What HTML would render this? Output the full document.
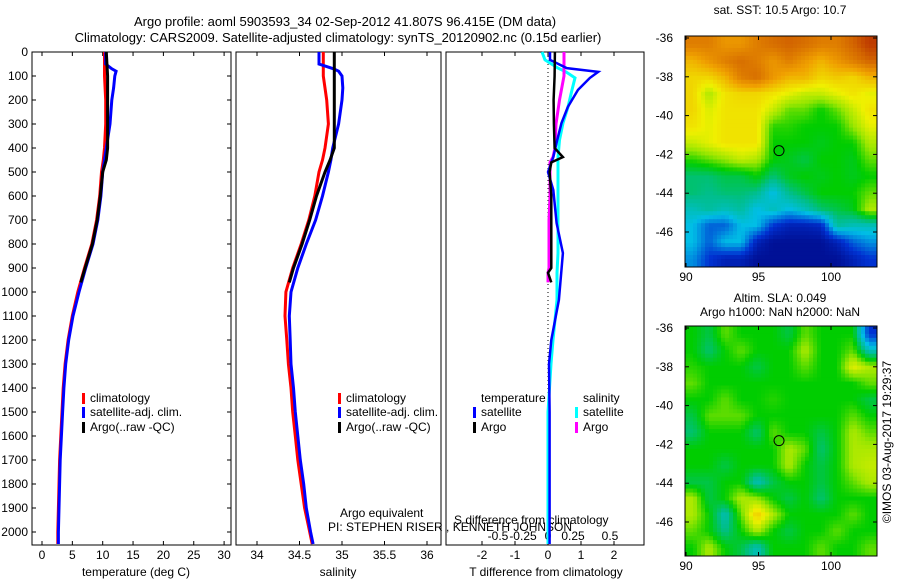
<!DOCTYPE html>
<html><head><meta charset="utf-8"><style>
body{margin:0;background:#fff}
svg{display:block;font-family:"Liberation Sans",sans-serif;font-size:12px}
</style></head><body>
<svg id="s" width="900" height="580" xmlns="http://www.w3.org/2000/svg">
<text x="345" y="26" text-anchor="middle" font-size="13">Argo profile: aoml 5903593_34 02-Sep-2012 41.807S 96.415E (DM data)</text>
<text x="338" y="42" text-anchor="middle" font-size="13">Climatology: CARS2009. Satellite-adjusted climatology: synTS_20120902.nc (0.15d earlier)</text>
<text x="780" y="14" text-anchor="middle">sat. SST: 10.5 Argo: 10.7</text>
<text x="780" y="302" text-anchor="middle">Altim. SLA: 0.049</text>
<text x="780" y="316" text-anchor="middle">Argo h1000: NaN h2000: NaN</text>
<text transform="translate(891,442) rotate(-90)" text-anchor="middle">©IMOS 03-Aug-2017 19:29:37</text>
<text x="340" y="517">Argo equivalent</text>
<text x="328" y="531">PI: STEPHEN RISER , KENNETH JOHNSON</text>
<text x="454" y="524">S difference from climatology</text>
<text x="136" y="576" text-anchor="middle">temperature (deg C)</text>
<text x="338" y="576" text-anchor="middle">salinity</text>
<text x="546" y="576" text-anchor="middle">T difference from climatology</text>
</svg>
<script>
// ---- data ----
const depths=[0,50,70,80,100,150,200,300,400,450,500,600,700,800,900,1000,1100,1200,1300,1400,1500,1600,1700,1800,1900,2000,2050];
const tempClim=[10.3,10.3,10.3,10.3,10.3,10.4,10.5,10.5,10.3,10.1,9.8,9.5,9.0,8.2,7.0,5.9,5.0,4.3,3.8,3.5,3.3,3.1,2.9,2.8,2.7,2.6,2.6];
const tempSat=[10.5,10.5,11.5,12.2,12.0,11.8,11.5,11.2,10.6,10.3,10.0,9.7,9.2,8.4,7.2,6.1,5.1,4.4,3.9,3.6,3.4,3.2,3.0,2.9,2.8,2.7,2.7];
const argoDepths=[0,100,200,300,400,450,500,600,700,800,900,960];
const tempArgo=[10.6,10.8,10.8,10.8,10.8,10.6,10.0,9.6,9.1,8.3,7.1,6.4];
const salClim=[34.78,34.78,34.78,34.78,34.78,34.80,34.82,34.84,34.80,34.77,34.73,34.68,34.61,34.52,34.42,34.34,34.33,34.35,34.37,34.40,34.42,34.45,34.48,34.52,34.56,34.62,34.65];
const salSat=[34.73,34.73,34.90,34.96,35.00,35.01,35.00,34.96,34.89,34.87,34.84,34.77,34.69,34.58,34.48,34.40,34.38,34.39,34.40,34.43,34.45,34.48,34.51,34.55,34.58,34.63,34.66];
const salArgo=[34.91,34.91,34.91,34.91,34.91,34.86,34.80,34.70,34.62,34.53,34.43,34.38];
const diffDepths=[0,33,67,83,108,158,229,296,367,438,500,575,713,838,921,1033,1200,1300,1500,1800,2050];
const tDiffSat=[0.06,0.06,0.57,1.52,1.27,0.91,0.6,0.41,0.28,0.16,0,0.16,0.26,0.45,0.4,0.33,0.1,0.03,0.05,0.05,0.05];
const sDiffSat=[-0.06,-0.03,0.1,0.18,0.27,0.24,0.2,0.15,0.115,0.1,0.1,0.1,0.1,0.1,0.09,0.09,0.05,0.03,0,0,0];
const argoDiffDepths=[0,100,200,300,400,438,460,500,600,700,800,900,920,960];
const tDiffArgo=[0.21,0.2,0.17,0.18,0.2,0.45,0.1,0.05,0.1,0.1,0.1,0.1,0.0,0.1];
const sDiffArgo=[0.16,0.16,0.115,0.08,0.07,0.05,0.02,0.02,0.02,0.01,0.01,0.01,0.0,0.0];
const depthTicks=[0,100,200,300,400,500,600,700,800,900,1000,1100,1200,1300,1400,1500,1600,1700,1800,1900,2000];
const tempTicks=[0,5,10,15,20,25,30];
const salTicks=[34,34.5,35,35.5,36];
const tdTicks=[-2,-1,0,1,2];
const sdTicks=[-0.5,-0.25,0,0.25,0.5];
const lonTicks=[90,95,100];
const latTicks=[-36,-38,-40,-42,-44,-46];
const sstGrid=[
[0.85,0.85,0.8,0.8,0.85,0.88,0.9,0.88,0.85,0.85,0.9,0.95],
[0.75,0.8,0.85,0.88,0.85,0.8,0.85,0.8,0.75,0.8,0.85,0.9],
[0.7,0.7,0.75,0.85,0.88,0.8,0.75,0.75,0.7,0.72,0.7,0.75],
[0.7,0.6,0.68,0.7,0.7,0.68,0.65,0.62,0.62,0.65,0.68,0.65],
[0.7,0.64,0.68,0.68,0.68,0.62,0.55,0.55,0.5,0.55,0.62,0.68],
[0.68,0.65,0.68,0.68,0.68,0.52,0.52,0.5,0.5,0.5,0.58,0.65],
[0.62,0.65,0.68,0.68,0.68,0.5,0.5,0.5,0.48,0.5,0.5,0.6],
[0.52,0.55,0.58,0.62,0.6,0.5,0.48,0.45,0.5,0.5,0.48,0.55],
[0.42,0.42,0.45,0.45,0.5,0.42,0.48,0.5,0.48,0.5,0.48,0.5],
[0.42,0.4,0.42,0.42,0.4,0.3,0.4,0.45,0.5,0.5,0.5,0.55],
[0.35,0.38,0.35,0.38,0.3,0.35,0.3,0.35,0.42,0.45,0.48,0.6],
[0.3,0.2,0.2,0.3,0.3,0.15,0.1,0.1,0.12,0.38,0.35,0.35],
[0.3,0.2,0.3,0.3,0.1,0.05,0.05,0.05,0.05,0.1,0.2,0.25],
[0.25,0.15,0.1,0.1,0.05,0.05,0.05,0.05,0.05,0.05,0.1,0.15]];
const slaGrid=[
[0.5,0.45,0.55,0.5,0.5,0.5,0.45,0.55,0.5,0.5,0.5,0.15],
[0.5,0.42,0.5,0.55,0.5,0.5,0.5,0.6,0.5,0.5,0.55,0.35],
[0.52,0.5,0.5,0.5,0.45,0.5,0.5,0.55,0.5,0.5,0.65,0.6],
[0.55,0.5,0.5,0.5,0.5,0.5,0.5,0.5,0.5,0.5,0.5,0.55],
[0.5,0.5,0.55,0.5,0.5,0.52,0.5,0.5,0.5,0.5,0.5,0.45],
[0.45,0.55,0.55,0.55,0.5,0.5,0.5,0.5,0.5,0.5,0.55,0.5],
[0.42,0.5,0.5,0.5,0.42,0.55,0.5,0.5,0.45,0.5,0.6,0.55],
[0.5,0.5,0.5,0.5,0.5,0.5,0.6,0.55,0.42,0.5,0.6,0.6],
[0.5,0.5,0.45,0.5,0.5,0.5,0.6,0.5,0.45,0.5,0.6,0.62],
[0.45,0.45,0.5,0.5,0.35,0.45,0.5,0.5,0.45,0.5,0.55,0.6],
[0.6,0.45,0.5,0.6,0.58,0.5,0.45,0.5,0.42,0.5,0.5,0.5],
[0.6,0.5,0.35,0.55,0.72,0.6,0.5,0.5,0.5,0.5,0.55,0.5],
[0.55,0.5,0.4,0.5,0.6,0.5,0.45,0.5,0.5,0.55,0.5,0.5],
[0.5,0.6,0.5,0.45,0.35,0.5,0.5,0.5,0.55,0.5,0.5,0.55]];
const argoLon=96.415, argoLat=-41.807;

// ---- axes ----
const svg=document.getElementById('s');const NS='http://www.w3.org/2000/svg';
function mk(t,a,p){const e=document.createElementNS(NS,t);for(const k in a)e.setAttribute(k,a[k]);(p||svg).appendChild(e);return e;}
const yD=d=>52+d*0.24;
const xT=t=>42+t*6.07;
const xS=s=>257+(s-34)*85;
const xTD=t=>548+t*33;
const xSD=s=>548+s*100;
const PB=545;
function panel(x0,x1,name){const r=mk('rect',{x:x0,y:52,width:x1-x0,height:PB-52,fill:'none',stroke:'#000'});

}
panel(32,231,'temperature-panel');panel(236,441,'salinity-panel');panel(446,644,'difference-panel');
depthTicks.forEach(d=>{const y=yD(d);
mk('line',{x1:32,x2:36,y1:y,y2:y,stroke:'#000'});mk('line',{x1:227,x2:231,y1:y,y2:y,stroke:'#000'});
const t=mk('text',{x:28,y:y+4,'text-anchor':'end'});t.textContent=d;

});
function xticks(arr,f,lab,y){arr.forEach(v=>{const x=f(v);mk('line',{x1:x,x2:x,y1:52,y2:56,stroke:'#000'});mk('line',{x1:x,x2:x,y1:PB,y2:PB-4,stroke:'#000'});
const t=mk('text',{x:x,y:y,'text-anchor':'middle'});t.textContent=lab(v);

});}
xticks(tempTicks,xT,v=>v,559);xticks(salTicks,xS,v=>v,559);xticks(tdTicks,xTD,v=>v,559);
sdTicks.forEach(v=>{const t=mk('text',{x:xSD(v)+(v===0.5?12:0),y:540,'text-anchor':'middle'});t.textContent=v;

});
mk('line',{x1:548,x2:548,y1:52,y2:PB,stroke:'#000','stroke-dasharray':'1,3'});
function line(ds,vs,f,col,name,w){const pts=ds.map((d,i)=>f(vs[i]).toFixed(1)+','+yD(d).toFixed(1)).join(' ');
const p=mk('polyline',{points:pts,fill:'none',stroke:col,'stroke-width':w||3});

}
line(depths,tempClim,xT,'#f00','temp-climatology-line');line(depths,tempSat,xT,'#00f','temp-satellite-line');line(argoDepths,tempArgo,xT,'#000','temp-argo-line');
line(depths,salClim,xS,'#f00','sal-climatology-line');line(depths,salSat,xS,'#00f','sal-satellite-line');line(argoDepths,salArgo,xS,'#000','sal-argo-line');
line(diffDepths,sDiffSat,xSD,'#0ff','sdiff-satellite-line',3);line(argoDiffDepths,sDiffArgo,xSD,'#f0f','sdiff-argo-line',3);
line(diffDepths,tDiffSat,xTD,'#00f','tdiff-satellite-line',2.5);line(argoDiffDepths,tDiffArgo,xTD,'#000','tdiff-argo-line',2.5);
function leg(x,y,col,txt){mk('rect',{x:x,y:y-9,width:3,height:11,fill:col});const t=mk('text',{x:x+8,y:y});t.textContent=txt;

}
leg(82,402,'#f00','climatology');leg(338,402,'#f00','climatology');
leg(82,416,'#00f','satellite-adj. clim.');leg(82,431,'#000','Argo(..raw -QC)');
leg(338,416,'#00f','satellite-adj. clim.');leg(338,431,'#000','Argo(..raw -QC)');
let t=mk('text',{x:481,y:402});t.textContent='temperature';


t=mk('text',{x:583,y:402});t.textContent='salinity';


leg(473,416,'#00f','satellite');leg(473,431,'#000','Argo');leg(575,416,'#0ff','satellite');leg(575,431,'#f0f','Argo');

// ---- maps ----
const stops=[[0,[0,0,120]],[0.15,[0,50,210]],[0.3,[0,190,230]],[0.4,[0,190,140]],[0.5,[0,205,0]],[0.58,[150,230,0]],[0.66,[240,240,0]],[0.78,[240,160,0]],[0.9,[210,100,0]],[1,[170,20,0]]];
function cmap(v){v=Math.max(0,Math.min(1,v));for(let i=1;i<stops.length;i++){if(v<=stops[i][0]){const a=stops[i-1],b=stops[i],f=(v-a[0])/(b[0]-a[0]);
return 'rgb('+a[1].map((c,k)=>Math.round(c+(b[1][k]-c)*f)).join(',')+')';}}return 'rgb(170,20,0)';}
function sample(grid,u,v){const R=grid.length,C=grid[0].length;const x=Math.max(0,Math.min(C-1,u*C-0.5)),y=Math.max(0,Math.min(R-1,v*R-0.5));
const i=Math.floor(y),j=Math.floor(x),i2=Math.min(R-1,i+1),j2=Math.min(C-1,j+1),fy=y-i,fx=x-j;
return grid[i][j]*(1-fx)*(1-fy)+grid[i][j2]*fx*(1-fy)+grid[i2][j]*(1-fx)*fy+grid[i2][j2]*fx*fy;}
function map(grid,y0,y1,lat0,name){const x0=685,x1=877;const lonX=l=>686+(l-90)*14.5;const latY=l=>lat0+(-36-l)*19.4;
const g=mk('g',{});

const NX=48,NY=58,cw=(x1-x0)/NX,ch=(y1-y0)/NY;
for(let i=0;i<NY;i++)for(let j=0;j<NX;j++){mk('rect',{x:x0+j*cw,y:y0+i*ch,width:cw+0.5,height:ch+0.5,fill:cmap(sample(grid,(j+0.5)/NX,(i+0.5)/NY))},g);}
mk('rect',{x:x0,y:y0,width:x1-x0,height:y1-y0,fill:'none',stroke:'#000'});
lonTicks.forEach(l=>{const x=lonX(l);mk('line',{x1:x,x2:x,y1:y1,y2:y1-4,stroke:'#000'});mk('line',{x1:x,x2:x,y1:y0,y2:y0+4,stroke:'#000'});
const t=mk('text',{x:x,y:y1+14,'text-anchor':'middle'});t.textContent=l;

});
latTicks.forEach(l=>{const y=latY(l);mk('line',{x1:x0,x2:x0+4,y1:y,y2:y,stroke:'#000'});mk('line',{x1:x1,x2:x1-4,y1:y,y2:y,stroke:'#000'});
const t=mk('text',{x:673,y:y+4,'text-anchor':'end'});t.textContent=l;

});
const c=mk('circle',{cx:lonX(argoLon),cy:latY(argoLat),r:5,fill:'none',stroke:'#000'});

}
map(sstGrid,36,267,38,'sst-map');map(slaGrid,326,556,328,'sla-map');
</script>
</body></html>
